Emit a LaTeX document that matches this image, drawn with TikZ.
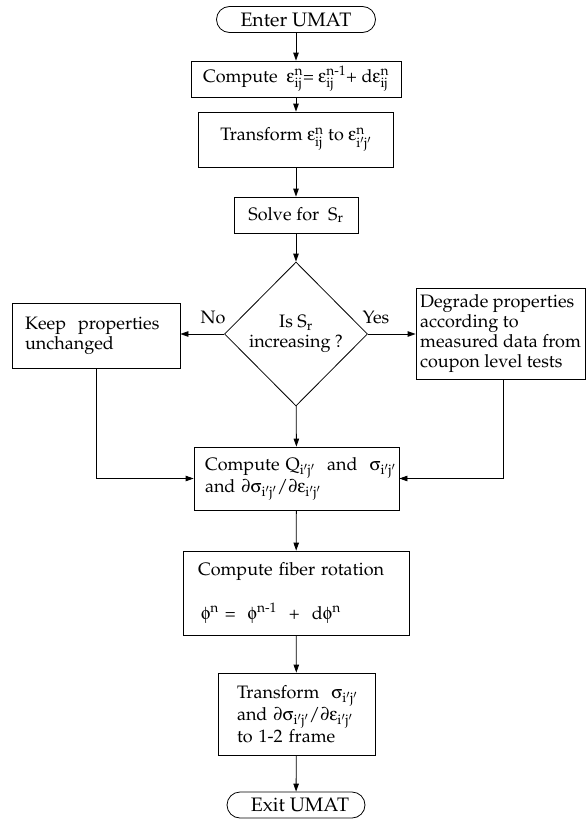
\documentclass[tikz,border=0pt]{standalone}
\usepackage[T1]{fontenc}
\usepackage{mathpazo}
\usepackage{amsmath}
\usepackage[Symbol]{upgreek}
\usetikzlibrary{shapes.geometric,arrows.meta}
\newcommand{\ipjp}{\mathrm{i'j'}}
\newcommand{\eps}{\upepsilon}
\newcommand{\sig}{\upsigma}
\newcommand{\fib}{\upphi}
\begin{document}
\begin{tikzpicture}[x=1pt,y=-1pt,
  every node/.style={font=\fontsize{18}{20}\selectfont},
  bx/.style 2 args={draw,line width=0.8pt,minimum width=#1,minimum height=#2,inner sep=0pt},
  term/.style 2 args={draw,line width=0.8pt,rounded corners=#2/2,minimum width=#1,minimum height=#2,inner sep=0pt,font=\fontsize{19.5}{22}\selectfont},
  lbox/.style n args={3}{draw,line width=0.8pt,minimum width=#1,minimum height=#2,inner xsep=#3,inner ysep=0pt,text width=#1-2*#3,align=left},
  arr/.style={line width=0.8pt,-{Triangle[length=8pt,width=5.5pt]}}]
\useasboundingbox (0,0) rectangle (587,819);

\node[term={159pt}{26pt}] (enter) at (296,19.5) {Enter UMAT};
\node[bx={210pt}{36pt}] (comp1) at (296,79) {Compute\ \ $\eps^{\mathrm{n}}_{\mathrm{ij}}$= $\eps^{\text{n-1}}_{\mathrm{ij}}$+ d$\eps^{\mathrm{n}}_{\mathrm{ij}}$};
\node[bx={195pt}{55pt}] (trans1) at (296,139.5) {Transform $\eps^{\mathrm{n}}_{\mathrm{ij}}$ to $\eps^{\mathrm{n}}_{\ipjp}$};
\node[bx={124pt}{36pt}] (solve) at (296,215) {Solve for\ \ S$_{\mathrm{r}}$};
\node[draw,line width=0.8pt,shape=diamond,minimum width=143pt,minimum height=144pt,inner sep=0pt,align=center] (dia) at (296,334) {\raisebox{-4pt}{Is S$_{\mathrm{r}}$}\\\raisebox{-4pt}{increasing ?}};
\node[lbox={168pt}{65pt}{13pt}] (keep) at (96,335.5) {\mbox{Keep\ \ properties}\\\mbox{unchanged}};
\node[bx={169pt}{91pt},align=left] (deg) at (500.5,333.5) {Degrade properties\\according to\\measured data from\\coupon level tests};
\node[lbox={205pt}{63pt}{11pt}] (compQ) at (296.5,478.5) {\mbox{Compute Q$_{\ipjp}$\ \ and\ \ $\sig_{\ipjp}$}\\\mbox{and $\partial\sig_{\ipjp}/\partial\eps_{\ipjp}$}};
\node[lbox={226pt}{84pt}{15pt}] (fiber) at (296,593) {\mbox{Compute fiber rotation}\\[22pt]\mbox{\,$\fib^{\mathrm{n}}$ =\ \ $\fib^{\text{n-1}}$\ \ +\ \ d$\fib^{\mathrm{n}}$}};
\node[lbox={157pt}{82pt}{19pt}] (trans2) at (296.5,714) {\mbox{Transform\ \ $\sig_{\ipjp}$}\\\mbox{and $\partial\sig_{\ipjp}/\partial\eps_{\ipjp}$}\\\mbox{to 1-2 frame}};
\node[term={138pt}{26pt}] (exit) at (296,805) {\hspace*{8pt}Exit UMAT};

\node (no) at (213,317) {No};
\node (yes) at (376,317) {Yes};

\draw[arr] (enter) -- (comp1);
\draw[arr] (comp1) -- (trans1);
\draw[arr] (trans1) -- (solve);
\draw[arr] (solve) -- (dia);
\draw[arr] (dia.west) -- (dia.west -| keep.east);
\draw[arr] (dia.east) -- (dia.east -| deg.west);
\draw[arr] (dia) -- (compQ);
\draw[arr] (keep.south) |- (compQ.west);
\draw[arr] ([xshift=2.5pt]deg.south) |- (compQ.east);
\draw[arr] (compQ) -- (fiber);
\draw[arr] (fiber) -- (trans2);
\draw[arr] (trans2) -- (exit);
\end{tikzpicture}
\end{document}
